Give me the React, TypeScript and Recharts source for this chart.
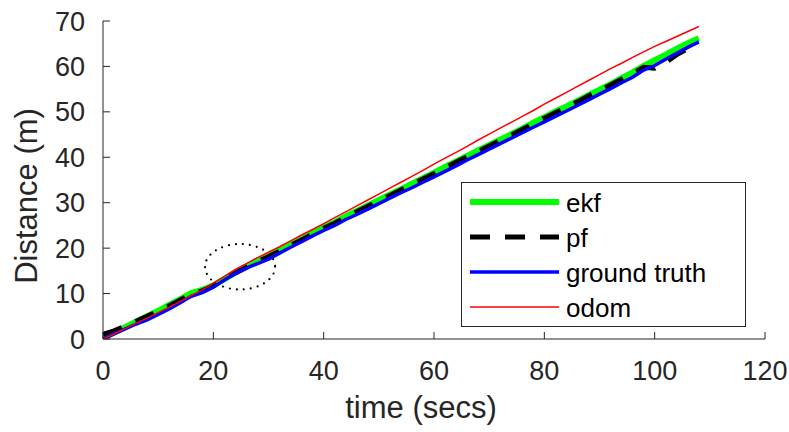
import React from "react";
import {
  LineChart,
  Line,
  XAxis,
  YAxis,
  Legend,
  ReferenceArea,
} from "recharts";

const time = [
  0, 2, 4, 6, 8, 10, 12, 14, 16, 18, 20, 22, 24, 26, 28, 30, 32, 34, 36, 38,
  40, 42, 44, 46, 48, 50, 52, 54, 56, 58, 60, 62, 64, 66, 68, 70, 72, 74, 76,
  78, 80, 82, 84, 86, 88, 90, 92, 94, 96, 98, 100, 102, 104, 106, 108,
];

const ekf = [
  0.2, 1.4, 2.6, 3.8, 5.0, 6.2, 7.5, 8.8, 10.1, 10.8, 11.8, 13.2, 14.6, 15.9,
  17.2, 18.3, 19.5, 20.8, 22.0, 23.3, 24.6, 25.7, 27.0, 28.2, 29.4, 30.6, 31.8,
  33.0, 34.2, 35.4, 36.6, 37.9, 39.1, 40.3, 41.5, 42.7, 43.9, 45.1, 46.3, 47.6,
  48.8, 50.1, 51.2, 52.4, 53.7, 54.9, 56.1, 57.4, 58.7, 60.1, 61.4, 62.6, 63.9,
  65.1, 66.2,
];

const pf = [
  1.0, 1.8, 2.8, 3.9, 5.0, 6.1, 7.3, 8.6, 9.8, 10.6, 11.7, 13.2, 14.6, 15.8,
  17.0, 18.1, 19.3, 20.6, 21.8, 23.1, 24.4, 25.5, 26.8, 28.0, 29.2, 30.4, 31.6,
  32.8, 34.0, 35.2, 36.4, 37.7, 38.9, 40.1, 41.3, 42.5, 43.7, 44.9, 46.1, 47.4,
  48.6, 49.8, 51.0, 52.2, 53.5, 54.7, 55.9, 57.2, 58.5, 59.8, 59.6, 60.9, 62.6,
  63.9, 65.0,
];

const groundTruth = [
  0.0, 1.1, 2.2, 3.3, 4.2, 5.4, 6.6, 8.0, 9.4, 10.2, 11.4, 13.0, 14.4, 15.6,
  16.6, 17.6, 18.9, 20.2, 21.4, 22.7, 23.9, 25.0, 26.3, 27.4, 28.6, 29.8, 31.0,
  32.2, 33.3, 34.5, 35.7, 36.9, 38.1, 39.4, 40.6, 41.8, 43.0, 44.2, 45.4, 46.6,
  47.8, 49.0, 50.2, 51.4, 52.6, 53.9, 55.1, 56.4, 57.6, 59.2, 60.2, 61.6, 62.9,
  64.2, 65.4,
];

const odom = [
  0.0, 1.1, 2.3, 3.5, 4.6, 5.8, 7.0, 8.3, 9.6, 10.8, 12.3, 13.8, 15.3, 16.6,
  17.9, 19.1, 20.3, 21.6, 22.9, 24.1, 25.4, 26.7, 28.0, 29.3, 30.6, 31.9, 33.2,
  34.5, 35.8, 37.1, 38.5, 39.8, 41.1, 42.4, 43.8, 45.1, 46.4, 47.7, 49.0, 50.3,
  51.7, 53.0, 54.3, 55.6, 56.9, 58.2, 59.5, 60.7, 62.0, 63.2, 64.4, 65.5, 66.6,
  67.7, 68.8,
];

const seriesNames = ["ekf", "pf", "ground truth", "odom"];
const xTicks = [0, 20, 40, 60, 80, 100, 120];
const yTicks = [0, 10, 20, 30, 40, 50, 60, 70];

// circled region (data units)
const highlight = { x1: 18.5, x2: 31.2, y1: 10.9, y2: 20.9 };

const data = time.map((t, i) => ({
  t,
  ekf: ekf[i],
  pf: pf[i],
  gt: groundTruth[i],
  odom: odom[i],
}));

const AXIS = "#262626";
const FONT = '"Liberation Sans", Arial, Helvetica, sans-serif';

function LegendBox({ payload }: any) {
  const items = seriesNames
    .map((n) => (payload || []).find((p: any) => p.value === n))
    .filter(Boolean);
  return (
    <svg width={285} height={145} style={{ display: "block" }}>
      <rect x={0.5} y={0.5} width={284} height={144} fill="#fff" stroke={AXIS} strokeWidth={1} />
      {items.map((it: any, i: number) => {
        const y = 20 + i * 35;
        const p = it.payload || {};
        return (
          <g key={it.value}>
            <line
              x1={9}
              x2={98}
              y1={y}
              y2={y}
              stroke={it.color}
              strokeWidth={p.strokeWidth}
              strokeDasharray={p.strokeDasharray}
            />
            <text x={105} y={y + 10} fontSize={26} fill="#000" fontFamily={FONT}>
              {it.value}
            </text>
          </g>
        );
      })}
    </svg>
  );
}

function Ellipse(props: any) {
  const { x, y, width, height } = props;
  return (
    <ellipse
      cx={x + width / 2}
      cy={y + height / 2}
      rx={width / 2}
      ry={height / 2}
      fill="none"
      stroke="#000"
      strokeWidth={2.2}
      strokeLinecap="round"
      strokeDasharray="0 7"
    />
  );
}

export default function App() {
  return (
    <div style={{ position: "absolute", left: 0, top: 0, background: "#fff" }}>
      <LineChart
        width={789}
        height={432}
        data={data}
        margin={{ top: 21, right: 24, bottom: 3, left: 3 }}
        style={{ fontFamily: FONT }}
      >
        <XAxis
          dataKey="t"
          type="number"
          domain={[0, 120]}
          ticks={xTicks}
          tickSize={-7}
          tickMargin={29}
          height={90}
          stroke={AXIS}
          tick={{ fill: AXIS, fontSize: 27 }}
          allowDataOverflow
          label={{
            content: () => (
              <text x={421} y={418} textAnchor="middle" fontSize={31} fill={AXIS} fontFamily={FONT}>
                time (secs)
              </text>
            ),
          }}
        />
        <XAxis
          xAxisId="top"
          orientation="top"
          type="number"
          domain={[0, 120]}
          ticks={xTicks}
          tickSize={-7}
          height={0}
          stroke={AXIS}
          tick={false}
          allowDataOverflow
        />
        <YAxis
          type="number"
          domain={[0, 70]}
          ticks={yTicks}
          tickSize={-7}
          tickMargin={25}
          width={100}
          stroke={AXIS}
          tick={{ fill: AXIS, fontSize: 27 }}
          allowDataOverflow
          label={{
            content: () => (
              <text
                transform="translate(37,196) rotate(-90)"
                textAnchor="middle"
                fontSize={31}
                fill={AXIS}
                fontFamily={FONT}
              >
                Distance (m)
              </text>
            ),
          }}
        />
        <YAxis
          yAxisId="right"
          orientation="right"
          type="number"
          domain={[0, 70]}
          ticks={yTicks}
          tickSize={-7}
          width={0}
          stroke={AXIS}
          tick={false}
          allowDataOverflow
        />
        <Line
          dataKey="ekf"
          name="ekf"
          stroke="#00ff00"
          strokeWidth={6}
          dot={false}
          isAnimationActive={false}
        />
        <Line
          dataKey="pf"
          name="pf"
          stroke="#000000"
          strokeWidth={5}
          strokeDasharray="20 15"
          dot={false}
          isAnimationActive={false}
        />
        <Line
          dataKey="gt"
          name="ground truth"
          stroke="#0000ff"
          strokeWidth={3.5}
          dot={false}
          isAnimationActive={false}
        />
        <Line
          dataKey="odom"
          name="odom"
          stroke="#ff0000"
          strokeWidth={1.5}
          dot={false}
          isAnimationActive={false}
        />
        <ReferenceArea
          x1={highlight.x1}
          x2={highlight.x2}
          y1={highlight.y1}
          y2={highlight.y2}
          ifOverflow="visible"
          shape={Ellipse}
        />
        <Legend
          layout="vertical"
          align="center"
          verticalAlign="middle"
          content={LegendBox}
          wrapperStyle={{ left: 461, top: 182, width: 285, height: 145 }}
        />
      </LineChart>
    </div>
  );
}
